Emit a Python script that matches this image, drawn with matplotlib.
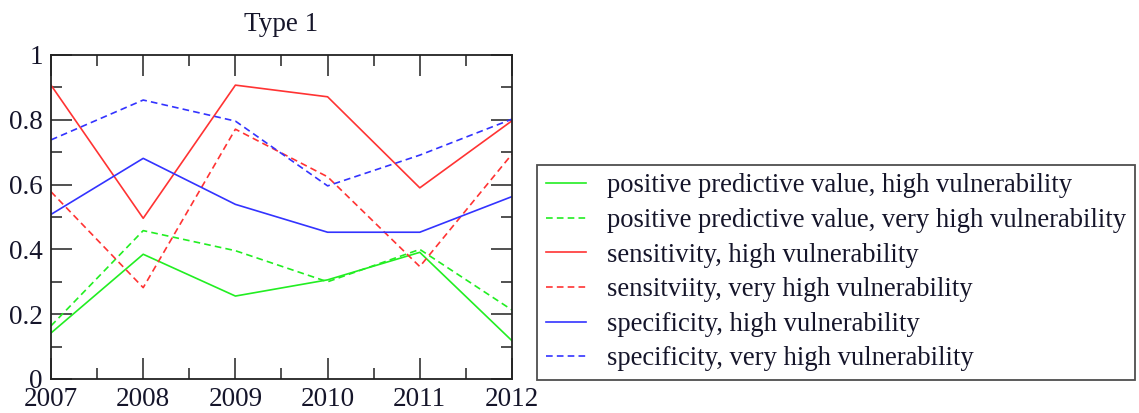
import matplotlib
matplotlib.use("Agg")
import matplotlib.pyplot as plt
from matplotlib.ticker import MultipleLocator

# yearly scores for the type 1 detector
years = [2007, 2008, 2009, 2010, 2011, 2012]
ppv_high = [0.142, 0.385, 0.256, 0.306, 0.391, 0.118]
ppv_very_high = [0.164, 0.458, 0.396, 0.300, 0.400, 0.213]
sens_high = [0.907, 0.496, 0.907, 0.871, 0.590, 0.797]
sens_very_high = [0.578, 0.282, 0.771, 0.624, 0.347, 0.694]
spec_high = [0.508, 0.681, 0.539, 0.453, 0.453, 0.563]
spec_very_high = [0.738, 0.861, 0.796, 0.596, 0.691, 0.802]

labels = [
    "positive predictive value, high vulnerability",
    "positive predictive value, very high vulnerability",
    "sensitivity, high vulnerability",
    "sensitviity, very high vulnerability",
    "specificity, high vulnerability",
    "specificity, very high vulnerability",
]

plt.rcParams['font.family'] = ['Liberation Serif', 'DejaVu Serif']
txt_color = '#15152a'

fig = plt.figure(figsize=(11.39, 4.13), dpi=100)
ax = fig.add_axes([51 / 1139, 34 / 413, 461 / 1139, 324 / 413])

green, red, blue = '#22ee22', '#ff3333', '#3333ff'
dash = (0, (4, 2.5))
series = [
    (ppv_high, green, '-'),
    (ppv_very_high, green, dash),
    (sens_high, red, '-'),
    (sens_very_high, red, dash),
    (spec_high, blue, '-'),
    (spec_very_high, blue, dash),
]
for (vals, col, ls), lab in zip(series, labels):
    ax.plot(years, vals, color=col, linestyle=ls, linewidth=1.2, label=lab)

ax.set_xlim(2007, 2012)
ax.set_ylim(0, 1)
ax.xaxis.set_major_locator(MultipleLocator(1))
ax.xaxis.set_minor_locator(MultipleLocator(0.5))
ax.yaxis.set_minor_locator(MultipleLocator(0.1))
ax.set_yticks([0, 0.2, 0.4, 0.6, 0.8, 1.0])
ax.set_yticklabels(["0", "0.2", "0.4", "0.6", "0.8", "1"])

# inward ticks on every side, long for majors
ax.tick_params(which='both', direction='in', top=True, right=True,
               width=1.1, colors='#222222', labelcolor=txt_color, labelsize=19.5)
ax.tick_params(which='major', length=15, pad=6)
ax.tick_params(axis='x', which='major', pad=6)
ax.tick_params(which='minor', length=8)
for s in ax.spines.values():
    s.set_linewidth(1.3)
    s.set_color('#222222')

ax.set_title("Type 1", fontsize=19.5, color=txt_color, pad=17)

leg = fig.legend(loc='lower left', bbox_to_anchor=(537 / 1139, 33 / 413),
                 frameon=True, fancybox=False, fontsize=19.2, handlelength=1.5,
                 handletextpad=0.8, labelspacing=0.36, borderpad=0.32,
                 borderaxespad=0, labelcolor=txt_color)
leg.get_frame().set_edgecolor('#222222')
leg.get_frame().set_linewidth(1.3)

fig.savefig("out.png", dpi=100)
